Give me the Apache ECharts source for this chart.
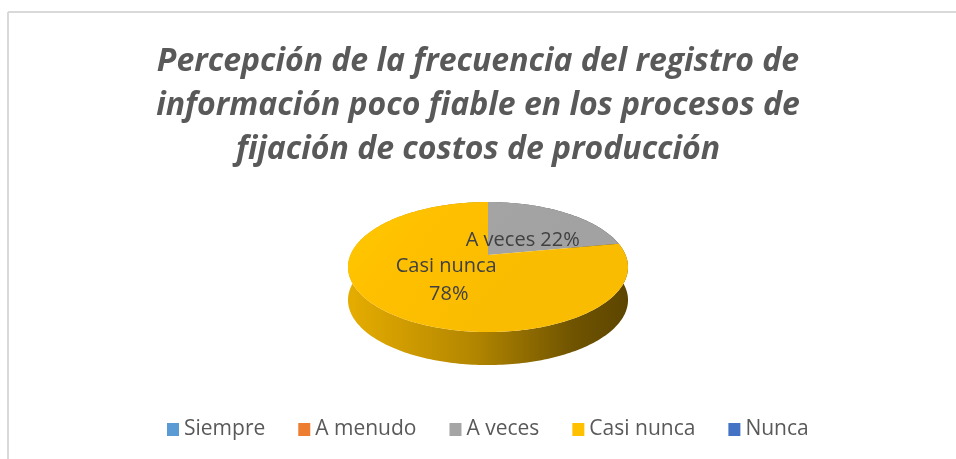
<!DOCTYPE html>
<html>
<head>
<meta charset="utf-8">
<script src="https://cdn.jsdelivr.net/npm/echarts@6/dist/echarts.min.js"></script>
<style>
  html, body { margin: 0; padding: 0; background: #fff; }
  #chart { width: 956px; height: 459px; }
</style>
</head>
<body>
<div id="chart"></div>
<script>
// datos del gráfico
var categories = ['Siempre', 'A menudo', 'A veces', 'Casi nunca', 'Nunca'];
var values = [0, 0, 22, 78, 0];
var colors = ['#5b9bd5', '#ed7d31', '#a5a5a5', '#ffc000', '#4472c4'];
var titleLines = [
  'Percepción de la frecuencia del registro de',
  'información poco fiable en los procesos de',
  'fijación de costos de producción'
];

var chart = echarts.init(document.getElementById('chart'));

// geometría del pastel 3D (perspectiva simple)
var CX = 488, CY = 255, RX = 137.6, RY = 62.8, K = 0.185, DEPTH = 33;
var total = values.reduce(function (a, b) { return a + b; }, 0);

function proj(theta, r, drop) {
  var sx = Math.sin(theta) * r, sz = Math.cos(theta) * r;
  var w = 1 + K * sz;
  return [CX + RX * sx / w, CY - RY * sz / w + drop];
}

function rgb(hex, f) {
  var n = parseInt(hex.slice(1), 16);
  var c = [(n >> 16) & 255, (n >> 8) & 255, n & 255].map(function (v) {
    return Math.min(255, Math.round(v * f));
  });
  return 'rgb(' + c.join(',') + ')';
}

function renderSlice(params, api) {
  var i = params.seriesIndex;
  if (!values[i]) return { type: 'group', children: [] };
  var before = 0;
  for (var j = 0; j < i; j++) before += values[j];
  var a0 = before / total * Math.PI * 2;
  var a1 = (before + values[i]) / total * Math.PI * 2;
  var steps = Math.max(8, Math.ceil((a1 - a0) / 0.02));
  var arcTop = [], arcBot = [];
  for (var s = 0; s <= steps; s++) {
    var t = a0 + (a1 - a0) * s / steps;
    arcTop.push(proj(t, 1, 0));
    arcBot.push(proj(t, 1, DEPTH));
  }
  var base = colors[i];
  var side = arcTop.concat(arcBot.slice().reverse());
  var top = [proj(0, 0, 0)].concat(arcTop);
  var lp = proj((a0 + a1) / 2, 0.42, 4);
  var pct = Math.round(values[i] / total * 100);
  return {
    type: 'group',
    children: [{
      type: 'polygon',
      z2: 1,
      shape: { points: side },
      style: {
        fill: new echarts.graphic.LinearGradient(CX - RX * 1.02, 0, CX + RX * 1.02, 0, [
          { offset: 0, color: rgb(base, 0.9) },
          { offset: 0.45, color: rgb(base, 0.7) },
          { offset: 0.8, color: rgb(base, 0.44) },
          { offset: 1, color: rgb(base, 0.36) }
        ], true)
      }
    }, {
      type: 'polygon',
      z2: 10,
      shape: { points: top },
      style: {
        fill: new echarts.graphic.LinearGradient(CX - RX, CY - RY, CX, CY + RY, [
          { offset: 0, color: rgb(base, 1.05) },
          { offset: 0.4, color: rgb(base, 1) },
          { offset: 1, color: rgb(base, 0.98) }
        ], true)
      }
    }, {
      type: 'text',
      z2: 20,
      style: {
        text: categories[i] + ' ' + pct + '%',
        x: lp[0],
        y: lp[1],
        align: 'center',
        verticalAlign: 'middle',
        width: 128,
        overflow: 'break',
        lineHeight: 28,
        font: '20px "Open Sans", sans-serif',
        fill: '#404040'
      }
    }]
  };
}

var series = categories.map(function (name, i) {
  return {
    name: name,
    type: 'custom',
    coordinateSystem: 'none',
    itemStyle: { color: colors[i] },
    renderItem: renderSlice,
    data: [values[i]],
    silent: true
  };
});

chart.setOption({
  animation: false,
  title: {
    text: titleLines.join('\n'),
    left: 'center',
    top: 35,
    textStyle: {
      fontFamily: '"Open Sans", sans-serif',
      fontSize: 32,
      fontWeight: 'bold',
      fontStyle: 'italic',
      color: '#595959',
      lineHeight: 44
    }
  },
  legend: {
    data: categories,
    top: 414,
    left: 162,
    icon: 'rect',
    itemWidth: 12,
    itemHeight: 13,
    itemGap: 33,
    selectedMode: false,
    textStyle: { fontSize: 21, color: '#595959', fontFamily: '"Open Sans", sans-serif' }
  },
  graphic: [
    { type: 'line', shape: { x1: 8, y1: 12, x2: 956, y2: 12 }, style: { stroke: '#d9d9d9', lineWidth: 2 } },
    { type: 'line', shape: { x1: 8, y1: 12, x2: 8, y2: 459 }, style: { stroke: '#d9d9d9', lineWidth: 2 } }
  ],
  series: series
});
</script>
</body>
</html>
